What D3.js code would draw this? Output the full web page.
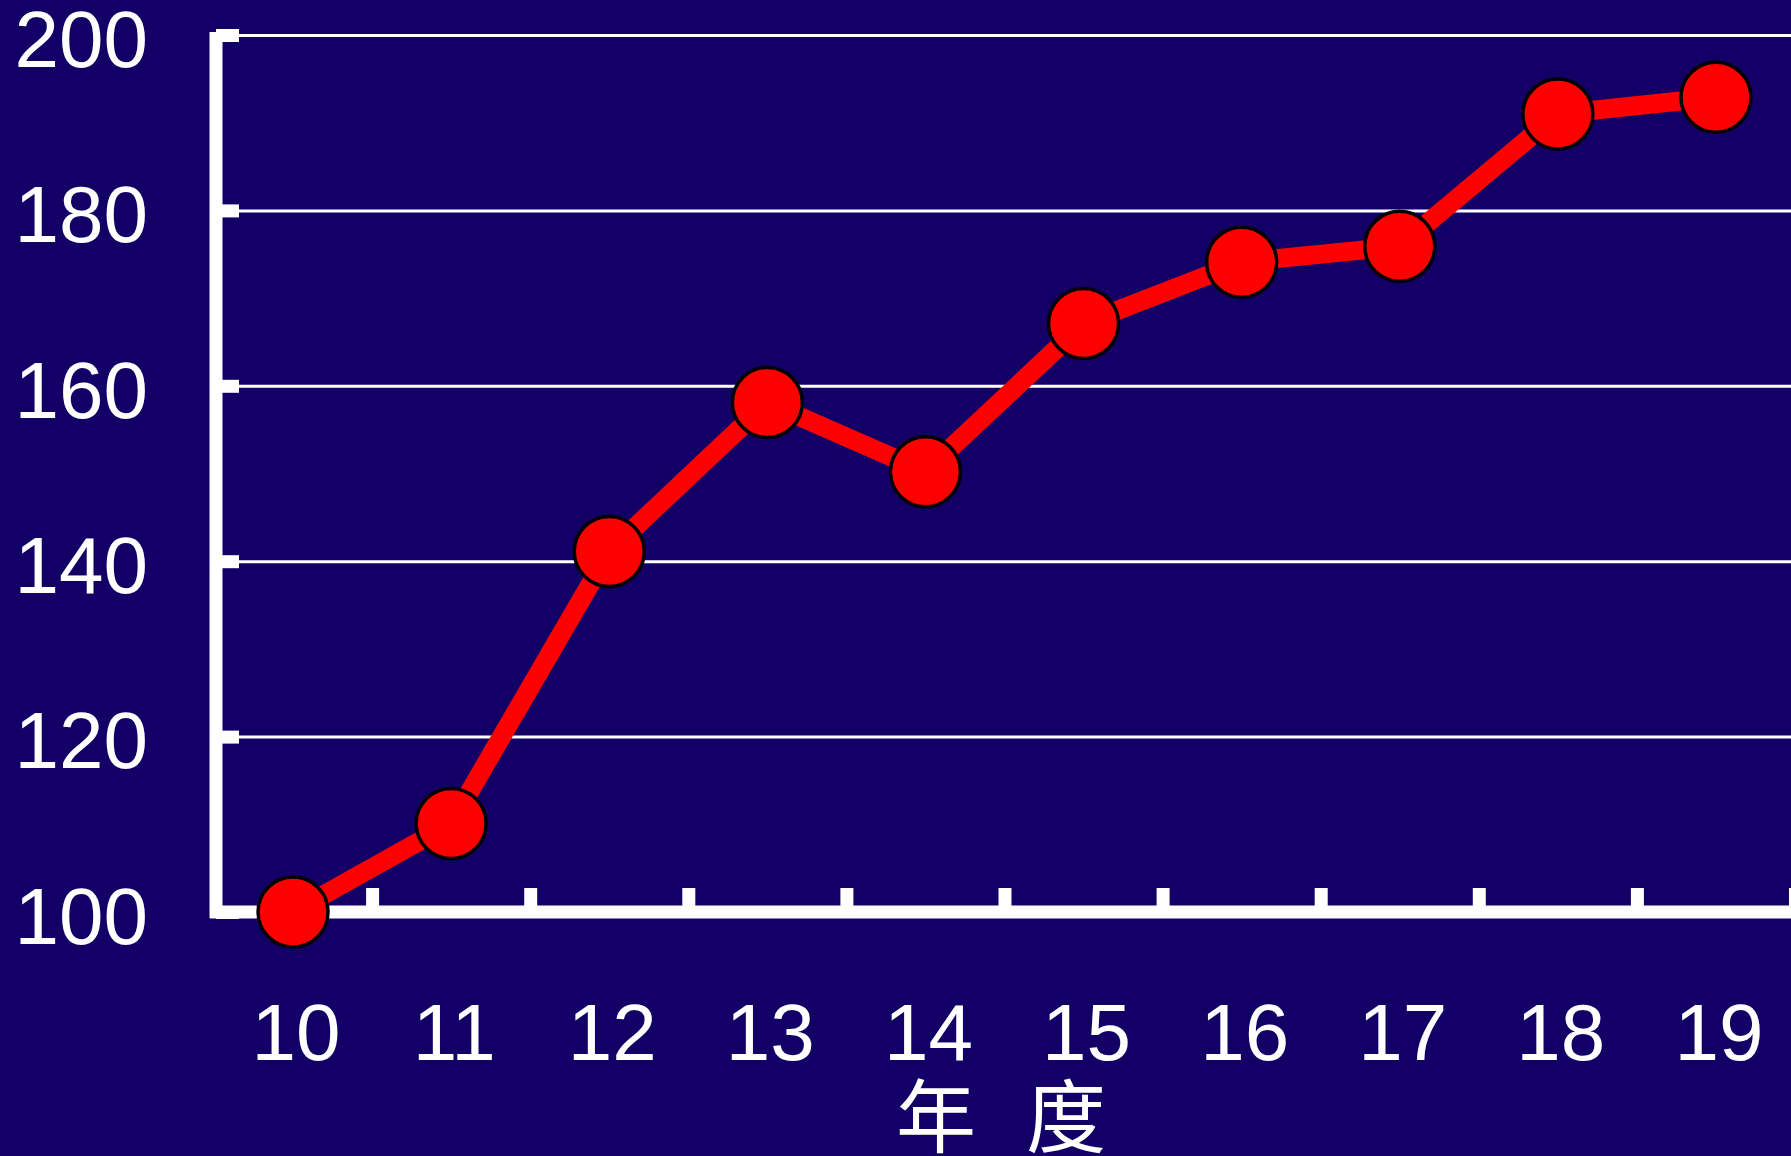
<!DOCTYPE html>
<html>
<head>
<meta charset="utf-8">
<script src="https://cdn.jsdelivr.net/npm/d3@7"></script>
<style>
  html, body { margin: 0; padding: 0; background: #120066; }
  svg { display: block; }
</style>
</head>
<body>
<svg></svg>
<script>
var width = 1791;
var height = 1156;

// data
var years = ["10", "11", "12", "13", "14", "15", "16", "17", "18", "19"];
var values = [100, 110.1, 141.1, 158.1, 150.2, 167.1, 174.1, 175.9, 191.0, 192.9];
var yTicks = [100, 120, 140, 160, 180, 200];
var xTitle = "年 度";

var axisX = 216;     // where the value axis sits
var baseY = 912;     // y of value 100
var topY = 35;       // y of value 200

var svg = d3.select("svg")
    .attr("width", width)
    .attr("height", height);

svg.append("rect")
    .attr("width", width)
    .attr("height", height)
    .attr("fill", "#120066");

var xScale = d3.scaleBand()
    .domain(years)
    .range([214, 1795]);

var xEdges = d3.scaleLinear()
    .domain([0, years.length])
    .range([214, 1795]);

var yScale = d3.scaleLinear()
    .domain([100, 200])
    .range([baseY, topY]);

// horizontal grid lines
var grid = svg.append("g")
    .attr("transform", `translate(${axisX},0)`)
    .call(d3.axisLeft(yScale)
        .tickValues(yTicks.filter(d => d > 100))
        .tickSize(-(width - axisX))
        .tickFormat(""));
grid.select(".domain").remove();
grid.selectAll(".tick line")
    .attr("stroke", "#ffffff")
    .attr("stroke-width", 3);

// value axis
var yAxis = svg.append("g")
    .attr("transform", `translate(${axisX},0)`)
    .call(d3.axisLeft(yScale)
        .tickValues(yTicks)
        .tickSize(-23)
        .tickSizeOuter(0)
        .tickPadding(68));
yAxis.select(".domain")
    .attr("stroke", "#ffffff")
    .attr("stroke-width", 13)
    .attr("d", `M0,${baseY + 6}V${topY - 3}`);
yAxis.selectAll(".tick line")
    .attr("stroke", "#ffffff")
    .attr("stroke-width", 13);
yAxis.selectAll(".tick text")
    .attr("fill", "#ffffff")
    .attr("dy", "0.39em")
    .style("font-family", "'Liberation Sans', Arial, sans-serif")
    .style("font-size", "80px");

// category axis: line with ticks on band edges
var xTickAxis = svg.append("g")
    .attr("transform", `translate(0,${baseY})`)
    .call(d3.axisBottom(xEdges)
        .tickValues(d3.range(1, years.length + 1))
        .tickSize(-24)
        .tickSizeOuter(0)
        .tickFormat(""));
xTickAxis.select(".domain")
    .attr("stroke", "#ffffff")
    .attr("stroke-width", 13)
    .attr("d", `M${axisX - 6},0H${width}`);
xTickAxis.selectAll(".tick line")
    .attr("stroke", "#ffffff")
    .attr("stroke-width", 13);

// category labels
var xAxis = svg.append("g")
    .attr("transform", `translate(0,${baseY})`)
    .call(d3.axisBottom(xScale)
        .tickSize(0)
        .tickPadding(0));
xAxis.select(".domain").remove();
xAxis.selectAll(".tick text")
    .attr("fill", "#ffffff")
    .attr("y", 0)
    .attr("dy", 148)
    .attr("dx", 3)
    .style("font-family", "'Liberation Sans', Arial, sans-serif")
    .style("font-size", "80px");

svg.append("text")
    .attr("x", 896)
    .attr("y", 1146)
    .attr("fill", "#ffffff")
    .style("font-family", "'Noto Sans CJK SC', sans-serif")
    .style("font-size", "80px")
    .style("letter-spacing", "16px")
    .text(xTitle);

// series
var line = d3.line()
    .x((d, i) => xScale(years[i]) + xScale.bandwidth() / 2)
    .y(d => yScale(d));

svg.append("path")
    .datum(values)
    .attr("d", line)
    .attr("fill", "none")
    .attr("stroke", "#ff0000")
    .attr("stroke-width", 19);

svg.selectAll("circle.pt")
    .data(values)
    .enter()
    .append("circle")
    .attr("class", "pt")
    .attr("cx", (d, i) => xScale(years[i]) + xScale.bandwidth() / 2)
    .attr("cy", d => yScale(d))
    .attr("r", 35)
    .attr("fill", "#ff0000")
    .attr("stroke", "#000000")
    .attr("stroke-width", 3.5);
</script>
</body>
</html>
